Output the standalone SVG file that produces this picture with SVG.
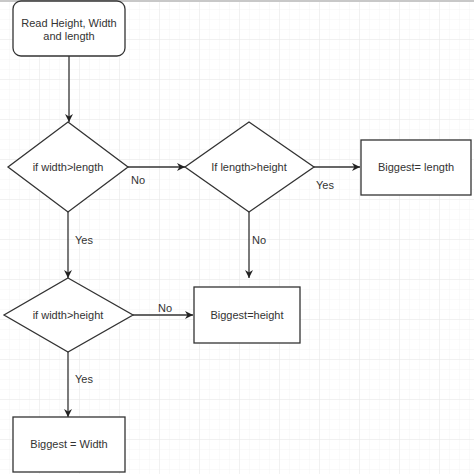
<svg xmlns="http://www.w3.org/2000/svg" width="474" height="474" viewBox="0 0 474 474">
<defs>
<pattern id="minor" width="10" height="10" patternUnits="userSpaceOnUse">
<path d="M10 0V10M0 10H10" fill="none" stroke="#f4f4f4" stroke-width="1"/>
</pattern>
<pattern id="major" width="40" height="40" patternUnits="userSpaceOnUse">
<rect width="40" height="40" fill="url(#minor)"/>
<path d="M40 0V40M0 40H40" fill="none" stroke="#e9e9e9" stroke-width="1"/>
</pattern>
<marker id="arr" viewBox="0 0 10 10" refX="10" refY="5" markerWidth="8" markerHeight="8" markerUnits="userSpaceOnUse" orient="auto">
<path d="M0 0L10 5L0 10L3 5Z" fill="#222"/>
</marker>
</defs>
<style>
.shape{fill:#fff;stroke:#333;stroke-width:1.3}
.t{font-family:"Liberation Sans",Arial,sans-serif;font-size:11px;fill:#333;text-anchor:middle}
.lbl{font-family:"Liberation Sans",Arial,sans-serif;font-size:11px;fill:#333}
.c{fill:none;stroke:#333;stroke-width:1.3;marker-end:url(#arr)}
</style>
<rect width="474" height="474" fill="#fff"/>
<rect width="474" height="474" fill="url(#major)"/>
<rect x="0" y="0" width="474" height="2" fill="#c8c8c8"/>

<g id="connectors">
<path class="c" d="M69 56V122"/>
<path class="c" d="M128 167H185"/>
<text class="lbl" x="131" y="184">No</text>
<path class="c" d="M314 167H360"/>
<text class="lbl" x="316" y="189">Yes</text>
<path class="c" d="M249 212V278"/>
<text class="lbl" x="252" y="244">No</text>
<path class="c" d="M68 212V278"/>
<text class="lbl" x="75" y="244">Yes</text>
<path class="c" d="M133 315H193"/>
<text class="lbl" x="158" y="312">No</text>
<path class="c" d="M68 352V417"/>
<text class="lbl" x="75" y="383">Yes</text>
</g>

<g id="start">
<rect class="shape" x="13" y="1" width="112" height="55" rx="8"/>
<text class="t" x="69" y="27">Read Height, Width</text>
<text class="t" x="69" y="40">and length</text>
</g>

<g id="d1">
<polygon class="shape" points="68,122 128,167 68,212 8,167"/>
<text class="t" x="68" y="171">if width&gt;length</text>
</g>

<g id="d2">
<polygon class="shape" points="249,122 314,167 249,212 185,167"/>
<text class="t" x="249" y="171">If length&gt;height</text>
</g>

<g id="b1">
<rect class="shape" x="361" y="140" width="110" height="55"/>
<text class="t" x="416" y="171">Biggest= length</text>
</g>

<g id="d3">
<polygon class="shape" points="68,278 133,315 68,352 4,315"/>
<text class="t" x="68" y="319">if width&gt;height</text>
</g>

<g id="b2">
<rect class="shape" x="194" y="287" width="106" height="56"/>
<text class="t" x="247" y="319">Biggest=height</text>
</g>

<g id="b3">
<rect class="shape" x="13" y="417" width="112" height="55"/>
<text class="t" x="69" y="448">Biggest = Width</text>
</g>
</svg>
